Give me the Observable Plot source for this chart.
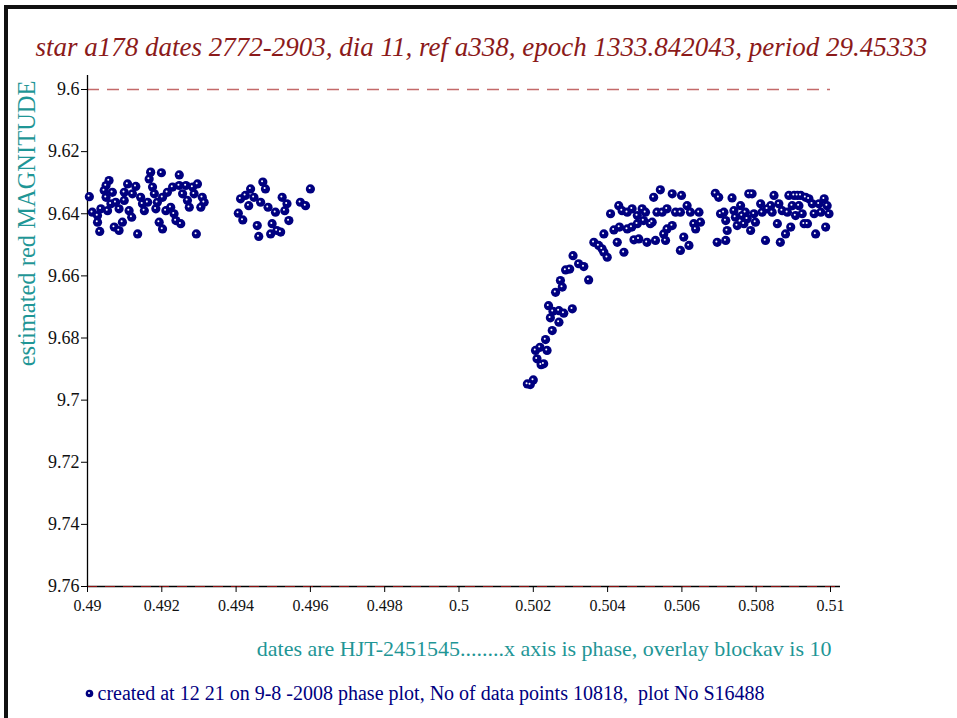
<!DOCTYPE html>
<html><head><meta charset="utf-8">
<script src="https://cdn.jsdelivr.net/npm/d3@7"></script>
<script src="https://cdn.jsdelivr.net/npm/@observablehq/plot@0.6"></script>
<style>
body{margin:0;background:#fff;}
#wrap{position:relative;width:957px;height:718px;overflow:hidden;background:#fff;}
#chart{position:absolute;left:0;top:0;}
#border{position:absolute;left:4px;top:5px;width:970px;height:730px;border-left:4px solid #111;border-top:4px solid #111;pointer-events:none;}
</style></head><body>
<div id="wrap"><div id="chart"></div><div id="border"></div></div>
<script>
// [phase, magnitude]
const groupA = [
[0.49005,9.6345],[0.49013,9.6395],[0.49027,9.6406],[0.49027,9.6427],[0.49033,9.6457],[0.49036,9.6384],
[0.4905,9.6347],[0.4905,9.6309],[0.49058,9.6293],[0.49045,9.6325],[0.49054,9.639],[0.49063,9.6368],
[0.49067,9.6331],[0.49076,9.6363],[0.49072,9.6443],[0.49085,9.6454],[0.49094,9.6427],[0.49085,9.6384],
[0.49099,9.6357],[0.49099,9.6331],[0.49108,9.6304],[0.49112,9.639],[0.49119,9.6411],[0.49121,9.6336],
[0.4913,9.6312],[0.49135,9.6465],[0.49143,9.6347],[0.49148,9.6368],[0.49153,9.639],[0.49166,9.6288],
[0.4917,9.6266],[0.49162,9.6363],[0.49175,9.6314],[0.4918,9.6336],[0.49184,9.6384],[0.49188,9.6363],
[0.49199,9.6268],[0.49193,9.6427],[0.49202,9.6449],[0.49202,9.6347],[0.49215,9.6331],[0.49211,9.639],
[0.49224,9.6379],[0.49229,9.6314],[0.49233,9.64],[0.49238,9.6422],[0.49247,9.6275],[0.49247,9.6309],
[0.49251,9.6432],[0.49256,9.6336],[0.49265,9.6309],[0.49269,9.6357],[0.49274,9.6379],[0.49283,9.6314],
[0.49287,9.6336],[0.49296,9.6304],[0.49293,9.6465],[0.49305,9.6379],[0.49309,9.6347],[0.49314,9.6363]
];
const groupB = [
[0.49406,9.6398],[0.49418,9.642],[0.49412,9.6352],[0.49425,9.6341],[0.49439,9.632],[0.49434,9.6374],
[0.49448,9.6347],[0.49457,9.6438],[0.49461,9.6473],[0.49466,9.6363],[0.49472,9.6298],[0.49479,9.632],
[0.49486,9.6379],[0.49493,9.6465],[0.49497,9.6432],[0.49506,9.6395],[0.4951,9.6454],[0.4952,9.6459],
[0.49524,9.6347],[0.49531,9.639],[0.49537,9.6368],[0.49542,9.6422],[0.49573,9.6363],[0.49587,9.6374],
[0.496,9.632]
];
const egress = [
[0.50184,9.6948],[0.50192,9.695],[0.502,9.6935],[0.50221,9.6886],[0.5021,9.6867],[0.50228,9.6883],
[0.50206,9.684],[0.50218,9.683],[0.50237,9.684],[0.50233,9.6805],[0.50251,9.6776],[0.50269,9.6749],
[0.50246,9.6735],[0.50253,9.6714],[0.50241,9.6696],[0.50269,9.6712],[0.50282,9.672],[0.50305,9.6706],
[0.5026,9.6653],[0.50278,9.6636],[0.50273,9.6615],[0.50287,9.6581],[0.50298,9.6578],[0.50307,9.6535],
[0.50322,9.6561],[0.50336,9.657],[0.50349,9.6613],[0.50363,9.6492],[0.50376,9.6502],[0.5039,9.6524],
[0.50399,9.654]
];
const plateauA = [
[0.50385,9.6513],[0.5039,9.6465],[0.50408,9.64],[0.50417,9.6452],[0.50426,9.6492],[0.5043,9.6374],
[0.50439,9.639],[0.50432,9.6443],[0.50444,9.6524],[0.50453,9.6395],[0.50453,9.6449],[0.50466,9.6384],
[0.50465,9.6443],[0.50471,9.6484],[0.5048,9.6432],[0.50484,9.6481],[0.5048,9.6406],[0.50493,9.6384],
[0.50497,9.6422],[0.50502,9.6395],[0.50506,9.6492],[0.50515,9.6432],[0.5052,9.6427],[0.50524,9.6347],
[0.50529,9.6486],[0.50533,9.6395],[0.50542,9.6323],[0.50547,9.6395],[0.50551,9.6465],[0.50556,9.6486],
[0.5056,9.6384],[0.5056,9.6449],[0.50574,9.6336],[0.50574,9.6438],[0.50583,9.6395],[0.50596,9.6395],
[0.50599,9.6341],[0.50596,9.6518],[0.50605,9.6475],[0.50614,9.6374],[0.50619,9.6502],[0.50623,9.6395],
[0.50632,9.6432],[0.50637,9.6449],[0.50646,9.6395],[0.5065,9.6427]
];
const plateauB = [
[0.5069,9.6334],[0.50699,9.6347],[0.50735,9.6349],[0.5078,9.6336],[0.50789,9.6336],[0.50704,9.64],
[0.50713,9.6395],[0.50718,9.6422],[0.50722,9.6454],[0.50695,9.6492],[0.50718,9.6486],[0.5074,9.639],
[0.50744,9.6411],[0.50749,9.6438],[0.50758,9.6374],[0.50762,9.6406],[0.50767,9.6432],[0.50771,9.6395],
[0.50776,9.6416],[0.50785,9.6454],[0.50794,9.64],[0.50798,9.6427],[0.50812,9.6368],[0.50816,9.6395],
[0.50825,9.6486],[0.5083,9.6384],[0.50839,9.6374],[0.50843,9.6395],[0.50848,9.6341],[0.50857,9.6432],
[0.50865,9.6492],[0.50861,9.6368],[0.5087,9.639],[0.50879,9.6465],[0.50884,9.6395],[0.50888,9.6341],
[0.50893,9.6443],[0.50897,9.6374],[0.50902,9.6341],[0.50906,9.6406],[0.50911,9.6341],[0.50915,9.6374],
[0.5092,9.6341],[0.50924,9.64],[0.50929,9.6432],[0.50933,9.6347],[0.50938,9.6432],[0.50942,9.6352],
[0.50951,9.6368],[0.50956,9.64],[0.5096,9.6465],[0.50969,9.6368],[0.50974,9.6395],[0.50983,9.6352],
[0.50987,9.6443],[0.50991,9.6374],[0.50996,9.64]
];

const xDomain = [0.49, 0.51];
const yDomain = [9.6, 9.76];
const xTicks = [0.49,0.492,0.494,0.496,0.498,0.5,0.502,0.504,0.506,0.508,0.51];
const xTickLabels = ["0.49","0.492","0.494","0.496","0.498","0.5","0.502","0.504","0.506","0.508","0.51"];
const yTicks = [9.6,9.62,9.64,9.66,9.68,9.7,9.72,9.74,9.76];
const yTickLabels = ["9.6","9.62","9.64","9.66","9.68","9.7","9.72","9.74","9.76"];
const referenceLevel = [9.6];

const titleText = "star a178 dates 2772-2903, dia 11, ref a338, epoch 1333.842043, period 29.45333";
const yLabelText = "estimated red MAGNITUDE";
const xCaptionText = "dates are HJT-2451545........x axis is phase, overlay blockav is 10";
const footerText = "created at 12 21 on 9-8 -2008 phase plot, No of data points 10818,  plot No S16488";

const points = [...groupA, ...groupB, ...egress, ...plateauA, ...plateauB].map(([phase, mag]) => ({phase, mag}));
const serif = "Liberation Serif";

const chart = Plot.plot({
  width: 957, height: 718,
  marginLeft: 87, marginRight: 117, marginTop: 75, marginBottom: 132,
  style: {fontFamily: serif, background: "transparent", overflow: "visible"},
  x: {domain: xDomain, insetRight: 10},
  y: {domain: yDomain, reverse: true, insetTop: 14},
  marks: [
    Plot.ruleY(referenceLevel.map(v => ({v, x1: xDomain[0], x2: xDomain[1]})), {y: "v", x1: "x1", x2: "x2", stroke: "#c46a6a", strokeWidth: 1.5, strokeDasharray: "12,8"}),
    Plot.ruleX([xDomain[0]], {stroke: "#000", strokeWidth: 1.3}),
    Plot.ruleY([yDomain[1]], {stroke: "#000", strokeWidth: 1.4}),
    Plot.ruleY([yDomain[1]], {stroke: "#8b1010", strokeWidth: 1, strokeDasharray: "10,8"}),
    Plot.axisX({ticks: xTicks, tickFormat: (d, i) => xTickLabels[i], tickSize: 6, tickPadding: 7, fontSize: 16, fontFamily: serif, fill: "#111", label: null}),
    Plot.axisY({ticks: yTicks, tickFormat: (d, i) => yTickLabels[i], tickSize: 6, tickPadding: 2, fontSize: 18, fontFamily: serif, fill: "#111", label: null}),
    Plot.dot(points, {x: "phase", y: "mag", r: 4.6, fill: "#000080"}),
    Plot.dot(points, {x: "phase", y: "mag", r: 1, fill: "#fff", dx: -0.8, dy: -0.8}),
    Plot.text([titleText], {text: d => d, frameAnchor: "top-left", dx: -52, dy: -20, textAnchor: "start", lineAnchor: "bottom", fontSize: 27, fontFamily: serif, fontStyle: "italic", fill: "#8b1a1a"}),
    Plot.text([yLabelText], {text: d => d, frameAnchor: "top-left", dx: -53, dy: 5, rotate: -90, textAnchor: "end", lineAnchor: "bottom", fontSize: 24.5, fontFamily: serif, fill: "#1f9696"}),
    Plot.text([xCaptionText], {text: d => d, frameAnchor: "bottom-right", dx: -9, dy: 69, textAnchor: "end", lineAnchor: "bottom", fontSize: 22, fontFamily: serif, fill: "#1f9696"}),
    Plot.dot([footerText], {frameAnchor: "bottom-left", dx: 2, dy: 107, r: 3.8, fill: "#000080"}),
    Plot.dot([footerText], {frameAnchor: "bottom-left", dx: 1.5, dy: 106.5, r: 1, fill: "#fff"}),
    Plot.text([footerText], {text: d => d, frameAnchor: "bottom-left", dx: 10, dy: 113, textAnchor: "start", lineAnchor: "bottom", fontSize: 20, fontFamily: serif, fill: "#000080"})
  ]
});
document.getElementById("chart").appendChild(chart);
</script>
</body></html>
